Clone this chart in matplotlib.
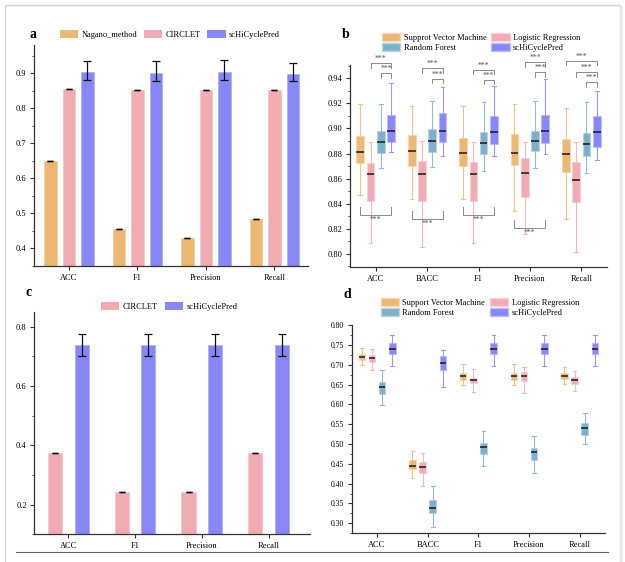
import matplotlib
matplotlib.use("Agg")
import matplotlib.pyplot as plt
from matplotlib.patches import Patch, Rectangle
from matplotlib.lines import Line2D
from matplotlib.ticker import MultipleLocator, FormatStrFormatter
import matplotlib.colors as mcolors
import numpy as np

plt.rcParams['font.family'] = ['Liberation Serif', 'DejaVu Serif']
plt.rcParams['font.size'] = 6

# ---------------- data ----------------
a_metrics = ['ACC', 'F1', 'Precision', 'Recall']
a_models = ['Nagano_method', 'CIRCLET', 'scHiCyclePred']
a_nagano = [0.648, 0.455, 0.430, 0.483]
a_circlet = [0.854, 0.852, 0.852, 0.852]
a_schi = [0.902, 0.900, 0.902, 0.898]
a_schi_err_lo = [0.021, 0.022, 0.022, 0.022]
a_schi_err_hi = [0.033, 0.033, 0.036, 0.031]

c_metrics = ['ACC', 'F1', 'Precision', 'Recall']
c_models = ['CIRCLET', 'scHiCyclePred']
c_circlet = [0.374, 0.242, 0.242, 0.374]
c_schi = [0.738, 0.738, 0.738, 0.738]
c_schi_err = [0.037, 0.037, 0.037, 0.037]

b_metrics = ['ACC', 'BACC', 'F1', 'Precision', 'Recall']
b_models = ['Supprot Vector Machine', 'Logistic Regression', 'Random Forest', 'scHiCyclePred']
# each entry: [whislo, q1, median, q3, whishi]
b_svm = [[0.8469, 0.8721, 0.8811, 0.8941, 0.9193],
         [0.8434, 0.8700, 0.8819, 0.8949, 0.9177],
         [0.8434, 0.8700, 0.8803, 0.8922, 0.9177],
         [0.8344, 0.8708, 0.8808, 0.8957, 0.9196],
         [0.8280, 0.8657, 0.8795, 0.8915, 0.9161]]
b_lr = [[0.8084, 0.8424, 0.8641, 0.8726, 0.8896],
        [0.8052, 0.8424, 0.8639, 0.8737, 0.8899],
        [0.8084, 0.8424, 0.8639, 0.8731, 0.8891],
        [0.8158, 0.8450, 0.8647, 0.8763, 0.8896],
        [0.8015, 0.8413, 0.8588, 0.8729, 0.8891]]
b_rf = [[0.8684, 0.8808, 0.8893, 0.8981, 0.9193],
        [0.8694, 0.8814, 0.8899, 0.8997, 0.9220],
        [0.8662, 0.8798, 0.8883, 0.8970, 0.9214],
        [0.8684, 0.8819, 0.8899, 0.8983, 0.9222],
        [0.8644, 0.8784, 0.8877, 0.8962, 0.9209]]
b_schi = [[0.8811, 0.8893, 0.8978, 0.9108, 0.9366],
          [0.8777, 0.8891, 0.8978, 0.9127, 0.9334],
          [0.8782, 0.8877, 0.8973, 0.9103, 0.9342],
          [0.8798, 0.8885, 0.8981, 0.9108, 0.9392],
          [0.8747, 0.8856, 0.8970, 0.9100, 0.9299]]
# significance brackets: (metric, model_a, model_b, y, side)
b_brackets = [(0, 1, 3, 0.9519, 'top'), (0, 2, 3, 0.9440, 'top'), (0, 0, 3, 0.8312, 'bottom'),
              (1, 1, 3, 0.9480, 'top'), (1, 2, 3, 0.9394, 'top'), (1, 0, 3, 0.8280, 'bottom'),
              (2, 1, 3, 0.9466, 'top'), (2, 2, 3, 0.9386, 'top'), (2, 0, 3, 0.8312, 'bottom'),
              (3, 1, 3, 0.9527, 'top'), (3, 2, 3, 0.9448, 'top'), (3, 0, 3, 0.8206, 'bottom'),
              (4, 0, 3, 0.9538, 'top'), (4, 1, 3, 0.9448, 'top'), (4, 2, 3, 0.9368, 'top')]

d_metrics = ['ACC', 'BACC', 'F1', 'Precision', 'Recall']
d_models = ['Support Vector Machine', 'Logistic Regression', 'Random Forest', 'scHiCyclePred']
d_svm = [[0.6997, 0.7115, 0.7200, 0.7267, 0.7435],
         [0.4147, 0.4375, 0.4459, 0.4594, 0.4822],
         [0.6483, 0.6627, 0.6715, 0.6795, 0.7027],
         [0.6500, 0.6626, 0.6727, 0.6803, 0.7030],
         [0.6516, 0.6634, 0.6727, 0.6803, 0.6955]]
d_lr = [[0.6870, 0.7064, 0.7182, 0.7250, 0.7393],
        [0.3954, 0.4274, 0.4426, 0.4544, 0.4780],
        [0.6322, 0.6542, 0.6626, 0.6676, 0.6887],
        [0.6297, 0.6592, 0.6710, 0.6820, 0.6955],
        [0.6339, 0.6525, 0.6609, 0.6685, 0.6845]]
d_rf = [[0.5994, 0.6263, 0.6449, 0.6567, 0.6862],
        [0.2917, 0.3262, 0.3397, 0.3600, 0.3954],
        [0.4443, 0.4755, 0.4923, 0.5033, 0.5336],
        [0.4282, 0.4603, 0.4805, 0.4906, 0.5210],
        [0.4999, 0.5235, 0.5404, 0.5522, 0.5791]]
d_schi = [[0.6971, 0.7275, 0.7410, 0.7562, 0.7756],
          [0.6440, 0.6879, 0.7056, 0.7216, 0.7368],
          [0.6980, 0.7275, 0.7410, 0.7553, 0.7756],
          [0.6980, 0.7275, 0.7410, 0.7553, 0.7756],
          [0.6980, 0.7275, 0.7410, 0.7553, 0.7756]]

# ---------------- style ----------------
C_ORANGE = '#EDB874'
C_PINK = '#F1ABB3'
C_BLUE = '#7EB0CB'
C_PURPLE = '#8787F8'
SPINE = '#333333'

W, H = 625, 562
fig = plt.figure(figsize=(W / 100, H / 100), dpi=100)


def lighten(c, f):
    r = np.array(mcolors.to_rgb(c))
    return tuple(r + (1 - r) * f)


def px_axes(l, t, r, b):
    return fig.add_axes([l / W, 1 - b / H, (r - l) / W, (b - t) / H])


def style_axes(ax):
    for s in ['top', 'right']:
        ax.spines[s].set_visible(False)
    for s in ['left', 'bottom']:
        ax.spines[s].set_color(SPINE)
        ax.spines[s].set_linewidth(0.9)
    ax.tick_params(axis='both', which='major', direction='out', length=3, width=0.8,
                   color=SPINE, labelsize=6, pad=2.5)
    ax.tick_params(axis='y', which='minor', direction='out', length=1.8, width=0.6, color=SPINE)
    ax.tick_params(axis='x', which='minor', length=0)


# ---------------- panel a ----------------
axa = px_axes(34, 45, 308, 266)
xa = np.arange(len(a_metrics))
bw = 0.18
off = 0.27
axa.bar(xa - off, a_nagano, bw, color=C_ORANGE, edgecolor=lighten(C_ORANGE, 0.3), lw=0.5,
        yerr=[0] * 4, capsize=2.2, error_kw=dict(lw=0.9, capthick=1.0, ecolor='#111111'))
axa.bar(xa, a_circlet, bw, color=C_PINK, edgecolor=lighten(C_PINK, 0.3), lw=0.5,
        yerr=[0] * 4, capsize=2.2, error_kw=dict(lw=0.9, capthick=1.0, ecolor='#111111'))
axa.bar(xa + off, a_schi, bw, color=C_PURPLE, edgecolor=lighten(C_PURPLE, 0.3), lw=0.5,
        yerr=[a_schi_err_lo, a_schi_err_hi], capsize=2.6,
        error_kw=dict(lw=0.9, capthick=0.9, ecolor='#111111'))
axa.set_xlim(-0.51, 3.49)
axa.set_ylim(0.35, 0.98)
axa.set_xticks(xa)
axa.set_xticklabels(a_metrics)
axa.yaxis.set_major_locator(MultipleLocator(0.1))
axa.yaxis.set_minor_locator(MultipleLocator(0.05))
axa.set_yticks([0.4, 0.5, 0.6, 0.7, 0.8, 0.9])
axa.yaxis.set_major_formatter(FormatStrFormatter('%.1f'))
style_axes(axa)
ha = [Patch(facecolor=c, edgecolor='none') for c in (C_ORANGE, C_PINK, C_PURPLE)]
axa.legend(ha, a_models, ncol=3, loc='center', bbox_to_anchor=(0.496, 1.048), frameon=False,
           handlelength=2.2, handleheight=1.1, handletextpad=0.4, columnspacing=0.8,
           fontsize=6, borderaxespad=0, borderpad=0)

# ---------------- panel c ----------------
axc = px_axes(34.3, 311.7, 310, 534.3)
xc = np.arange(len(c_metrics))
bwc = 0.21
offc = 0.2
axc.bar(xc - offc, c_circlet, bwc, color=C_PINK, edgecolor=lighten(C_PINK, 0.3), lw=0.5,
        yerr=[0] * 4, capsize=2.4, error_kw=dict(lw=0.9, capthick=1.0, ecolor='#111111'))
axc.bar(xc + offc, c_schi, bwc, color=C_PURPLE, edgecolor=lighten(C_PURPLE, 0.3), lw=0.5,
        yerr=c_schi_err, capsize=2.6, error_kw=dict(lw=0.9, capthick=0.9, ecolor='#111111'))
axc.set_xlim(-0.51, 3.62)
axc.set_ylim(0.1, 0.85)
axc.set_xticks(xc)
axc.set_xticklabels(c_metrics)
axc.set_yticks([0.2, 0.4, 0.6, 0.8])
axc.yaxis.set_minor_locator(MultipleLocator(0.1))
axc.yaxis.set_major_formatter(FormatStrFormatter('%.1f'))
style_axes(axc)
hc = [Patch(facecolor=c, edgecolor='none') for c in (C_PINK, C_PURPLE)]
axc.legend(hc, c_models, ncol=2, loc='center', bbox_to_anchor=(0.489, 1.024), frameon=False,
           handlelength=2.2, handleheight=1.1, handletextpad=0.4, columnspacing=0.8,
           fontsize=6, borderaxespad=0, borderpad=0)


# ---------------- box panels ----------------
def box_panel(ax, groups, metrics, colors, width, capw):
    offsets = [-0.3, -0.1, 0.1, 0.3]
    for g, (data, col) in enumerate(zip(groups, colors)):
        stats = [dict(whislo=v[0], q1=v[1], med=v[2], q3=v[3], whishi=v[4], fliers=[])
                 for v in data]
        pos = np.arange(len(metrics)) + offsets[g]
        ax.bxp(stats, positions=pos, widths=width, patch_artist=True, showfliers=False,
               capwidths=capw,
               boxprops=dict(facecolor=col, edgecolor=lighten(col, 0.45), linewidth=0.8),
               medianprops=dict(color='#1a1a1a', linewidth=1.1),
               whiskerprops=dict(color=lighten(col, 0.15), linewidth=0.8),
               capprops=dict(color=lighten(col, 0.15), linewidth=0.8))
    ax.set_xlim(-0.5, 4.5)
    ax.set_xticks(np.arange(len(metrics)))
    ax.set_xticklabels(metrics)


axb = px_axes(350, 65, 607, 267)
box_panel(axb, [b_svm, b_lr, b_rf, b_schi], b_metrics, [C_ORANGE, C_PINK, C_BLUE, C_PURPLE], 0.15, 0.07)
axb.set_ylim(0.7896, 0.9506)
axb.set_yticks(np.arange(0.80, 0.9401, 0.02))
axb.yaxis.set_minor_locator(MultipleLocator(0.01))
axb.yaxis.set_major_formatter(FormatStrFormatter('%.2f'))
style_axes(axb)

offs = [-0.3, -0.1, 0.1, 0.3]
BR = '#8a8a8a'
for m, i, j, y, side in b_brackets:
    x1, x2 = m + offs[i], m + offs[j]
    if side == 'top':
        h = 0.0035
        axb.plot([x1, x1, x2, x2], [y - h, y, y, y - h], color=BR, lw=0.7, clip_on=False)
        axb.text((x1 + x2) / 2, y + 0.0004, '***', ha='center', va='bottom', fontsize=5.5,
                 color='#555555', clip_on=False)
    else:
        h = 0.0065
        axb.plot([x1, x1, x2, x2], [y + h, y, y, y + h], color=BR, lw=0.7, clip_on=False)
        axb.text((x1 + x2) / 2, y - 0.0006, '***', ha='center', va='top', fontsize=5.5,
                 color='#555555', clip_on=False)

hb = [Patch(facecolor=c, edgecolor=lighten(c, 0.45)) for c in (C_ORANGE, C_BLUE, C_PINK, C_PURPLE)]
lb = [b_models[0], b_models[2], b_models[1], b_models[3]]
axb.legend(hb, lb, ncol=2, loc='center', bbox_to_anchor=(0.51, 1.111), frameon=False,
           handlelength=2.2, handleheight=1.0, handletextpad=0.4, columnspacing=0.6,
           labelspacing=0.15, fontsize=6, borderaxespad=0, borderpad=0)

axd = px_axes(351.7, 324.5, 605, 533.3)
box_panel(axd, [d_svm, d_lr, d_rf, d_schi], d_metrics, [C_ORANGE, C_PINK, C_BLUE, C_PURPLE], 0.13, 0.07)
axd.set_ylim(0.2747, 0.802)
axd.set_yticks(np.arange(0.30, 0.8001, 0.05))
axd.yaxis.set_minor_locator(MultipleLocator(0.025))
axd.yaxis.set_major_formatter(FormatStrFormatter('%.2f'))
style_axes(axd)
axd.tick_params(axis='y', labelsize=5.5)
hd = [Patch(facecolor=c, edgecolor=lighten(c, 0.45)) for c in (C_ORANGE, C_BLUE, C_PINK, C_PURPLE)]
ld = [d_models[0], d_models[2], d_models[1], d_models[3]]
axd.legend(hd, ld, ncol=2, loc='center', bbox_to_anchor=(0.506, 1.081), frameon=False,
           handlelength=2.2, handleheight=1.0, handletextpad=0.4, columnspacing=0.6,
           labelspacing=0.15, fontsize=6, borderaxespad=0, borderpad=0)

# ---------------- panel letters ----------------
for txt, x, y in [('a', 33, 34), ('b', 346, 34), ('c', 29, 293), ('d', 347, 294)]:
    fig.text(x / W, 1 - y / H, txt, fontsize=10, fontweight='bold', ha='center', va='center')

# ---------------- card frame ----------------
fig.patches.append(Rectangle((5 / W, -0.05), 615 / W, 1 - 5 / H + 0.05, transform=fig.transFigure,
                             facecolor='none', edgecolor='#d4d4d4', lw=1.0, zorder=-1))
fig.lines.append(Line2D([621 / W, 621 / W], [0, 1 - 7 / H], transform=fig.transFigure,
                        color='#ececec', lw=2.0))
fig.lines.append(Line2D([16 / W, 608 / W], [1 - 552 / H, 1 - 552 / H], transform=fig.transFigure,
                        color='#666666', lw=0.8))

fig.savefig('out.png', dpi=100)
